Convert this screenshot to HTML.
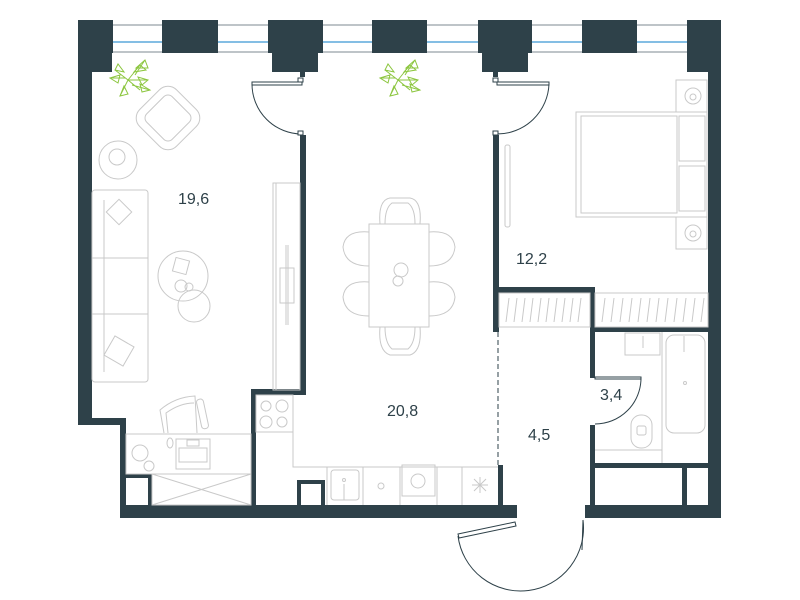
<!DOCTYPE html>
<html><head><meta charset="utf-8"><style>
html,body{margin:0;padding:0;background:#fff;}
svg{display:block}
text{font-family:"Liberation Sans",sans-serif;font-size:16px;fill:#2e4149}
</style></head><body>
<svg width="800" height="600" viewBox="0 0 800 600" xmlns="http://www.w3.org/2000/svg">
<g stroke="#a9b1b5" stroke-width="1.5">
<line x1="112" y1="25" x2="690" y2="25"/>
<line x1="112" y1="52" x2="690" y2="52"/>
</g>
<g stroke="#5ca9dc" stroke-width="1.5">
<line x1="112" y1="42" x2="690" y2="42"/>
</g>
<g fill="#2e4149">
<rect x="78" y="20" width="35" height="33"/>
<rect x="78" y="20" width="34" height="52"/>
<rect x="162" y="20" width="56" height="33"/>
<rect x="268" y="20" width="55" height="33"/>
<rect x="272" y="20" width="46" height="52"/>
<rect x="372" y="20" width="55" height="33"/>
<rect x="478" y="20" width="54" height="33"/>
<rect x="482" y="20" width="46" height="52"/>
<rect x="582" y="20" width="55" height="33"/>
<rect x="687" y="20" width="34" height="52"/>
<rect x="78" y="20" width="14" height="405"/>
<rect x="78" y="418" width="48" height="7"/>
<rect x="120" y="418" width="6" height="100"/>
<rect x="120" y="505" width="397" height="13"/>
<rect x="585" y="505" width="136" height="13"/>
<rect x="708" y="20" width="13" height="498"/>
<rect x="126" y="474" width="26" height="4"/>
<rect x="148" y="474" width="4" height="31"/>
<rect x="297" y="480" width="28" height="4"/>
<rect x="297" y="480" width="4" height="25"/>
<rect x="321" y="480" width="4" height="25"/>
<rect x="300" y="135" width="6" height="260"/>
<rect x="251" y="389" width="55" height="6"/>
<rect x="251" y="389" width="5" height="116"/>
<rect x="300" y="72" width="5" height="5"/>
<rect x="493" y="135" width="6" height="197"/>
<rect x="493" y="72" width="5" height="5"/>
<rect x="493" y="287" width="102" height="6"/>
<rect x="590" y="287" width="5" height="45"/>
<rect x="590" y="327" width="118" height="5"/>
<rect x="590" y="327" width="5" height="51"/>
<rect x="590" y="425" width="5" height="80"/>
<rect x="590" y="463" width="118" height="5"/>
<rect x="682" y="463" width="5" height="42"/>
<rect x="498" y="465" width="5" height="40"/>
</g>
<g fill="none" stroke="#2e4149" stroke-width="1">
<rect x="252" y="82" width="50" height="3" fill="#fff"/>
<path d="M252 84 A50 50 0 0 0 302 134"/>
<rect x="298" y="78" width="5" height="4" fill="#fff"/>
<rect x="298" y="131" width="5" height="4" fill="#fff"/>
<rect x="497" y="82" width="52" height="3" fill="#fff"/>
<path d="M549 84 A52 52 0 0 1 497 134"/>
<rect x="493" y="78" width="5" height="4" fill="#fff"/>
<rect x="493" y="131" width="5" height="4" fill="#fff"/>
<rect x="595" y="377" width="46" height="2" fill="#fff"/>
<path d="M641 378 A46 46 0 0 1 595 424"/>
<path d="M458 534 L515 522 L516 526 L459 538 Z" fill="#fff"/>
<path d="M458 536 A63 63 0 0 0 583 520"/>
<line x1="583" y1="520" x2="582" y2="550"/>
</g>
<line x1="498" y1="332" x2="498" y2="465" stroke="#2e4149" stroke-dasharray="5,3"/>
<g fill="none" stroke="#c9c9c9" stroke-width="1">
<rect x="142" y="92" width="52" height="52" rx="12" transform="rotate(45 168 118)"/>
<rect x="150" y="100" width="36" height="36" rx="6" transform="rotate(45 168 118)"/>
<circle cx="118" cy="160" r="19"/><circle cx="117" cy="157" r="8"/>
<rect x="92" y="190" width="56" height="192" rx="3"/>
<line x1="104" y1="200" x2="104" y2="372"/>
<line x1="92" y1="258" x2="148" y2="258"/><line x1="92" y1="314" x2="148" y2="314"/>
<rect x="110" y="203" width="18" height="18" transform="rotate(45 119 212)"/>
<rect x="108" y="340" width="22" height="22" transform="rotate(30 119 351)"/>
<circle cx="183" cy="276" r="25"/><circle cx="194" cy="306" r="16"/>
<rect x="174" y="259" width="14" height="14" transform="rotate(15 181 266)"/>
<circle cx="181" cy="286" r="6"/><circle cx="189" cy="287" r="4"/>
<rect x="273" y="183" width="27" height="207"/>
<line x1="276" y1="183" x2="276" y2="390"/>
<rect x="280" y="268" width="14" height="35"/>
<line x1="286" y1="245" x2="286" y2="325"/><line x1="288" y1="245" x2="288" y2="325"/>
<rect x="126" y="434" width="125" height="40"/>
<rect x="176" y="439" width="34" height="30"/><rect x="179" y="448" width="28" height="14"/><rect x="187" y="440" width="12" height="6"/>
<ellipse cx="170" cy="443" rx="3" ry="5"/>
<circle cx="140" cy="453" r="8"/><circle cx="149" cy="466" r="5"/>
<path d="M164 433 L160 410 Q175 397 195 396 L197 433"/>
<path d="M168 433 L166 413 Q180 403 194 403"/>
<rect x="199" y="399" width="7" height="30" rx="3" transform="rotate(-12 202 414)"/>
<rect x="152" y="474" width="99" height="31"/>
<line x1="152" y1="474" x2="251" y2="505"/><line x1="152" y1="505" x2="251" y2="474"/>
<rect x="256" y="395" width="37" height="37"/>
<circle cx="266" cy="406" r="5"/><circle cx="282" cy="406" r="6"/><circle cx="266" cy="422" r="6"/><circle cx="282" cy="422" r="5"/>
<polyline points="293,395 293,467 498,467"/>
<line x1="327" y1="467" x2="327" y2="505"/><line x1="363" y1="467" x2="363" y2="505"/><line x1="400" y1="467" x2="400" y2="505"/><line x1="437" y1="467" x2="437" y2="505"/><line x1="462" y1="467" x2="462" y2="505"/>
<rect x="331" y="470" width="28" height="30" rx="3"/><line x1="344" y1="484" x2="344" y2="500"/><circle cx="344" cy="480" r="1.5"/>
<circle cx="381" cy="486" r="3"/>
<rect x="402" y="465" width="33" height="31"/><circle cx="418" cy="481" r="7"/>
<path d="M480 477 L480 493 M472 485 L488 485 M474 479 L486 491 M486 479 L474 491"/>
<rect x="369" y="224" width="60" height="103"/>
<circle cx="401" cy="270" r="7"/><circle cx="398" cy="281" r="5"/>
<path d="M380 224 Q378 200 390 198 L410 198 Q422 200 420 224"/><path d="M385 224 Q385 208 392 203 L408 203 Q415 208 415 224"/>
<path d="M380 327 Q378 351 390 355 L410 355 Q422 351 420 327"/><path d="M385 327 Q385 343 392 349 L408 349 Q415 343 415 327"/>
<path d="M369 232 Q345 230 343 247 Q345 266 369 266"/><path d="M369 282 Q345 280 343 297 Q345 316 369 316"/>
<path d="M429 232 Q453 230 455 247 Q453 266 429 266"/><path d="M429 282 Q453 280 455 297 Q453 316 429 316"/>
<rect x="576" y="112" width="131" height="105"/>
<rect x="581" y="116" width="96" height="97"/>
<rect x="679" y="116" width="26" height="45"/><rect x="679" y="166" width="26" height="45"/>
<rect x="676" y="80" width="31" height="32"/><circle cx="693" cy="96" r="8"/><circle cx="693" cy="97" r="3"/>
<rect x="676" y="217" width="31" height="32"/><circle cx="693" cy="233" r="8"/><circle cx="693" cy="234" r="3"/>
<rect x="505" y="145" width="5" height="82" rx="2"/>
<rect x="499" y="293" width="91" height="34"/><rect x="595" y="293" width="113" height="34"/>
<path d="M506 322 L509 298 M514 322 L517 298 M522 322 L525 298 M530 322 L533 298 M538 322 L541 298 M546 322 L549 298 M554 322 L557 298 M562 322 L565 298 M570 322 L573 298 M578 322 L581 298"/>
<path d="M602 322 L605 298 M611 322 L614 298 M620 322 L623 298 M629 322 L632 298 M638 322 L641 298 M647 322 L650 298 M656 322 L659 298 M665 322 L668 298 M674 322 L677 298 M683 322 L686 298 M692 322 L695 298 M701 322 L704 298"/>
<rect x="625" y="333" width="35" height="22"/><line x1="643" y1="336" x2="643" y2="348"/>
<rect x="666" y="335" width="39" height="98" rx="8"/><line x1="662" y1="332" x2="662" y2="463"/>
<line x1="684" y1="336" x2="684" y2="352"/><circle cx="685" cy="383" r="1.5"/>
<rect x="631" y="415" width="21" height="33" rx="10"/><rect x="637" y="426" width="9" height="9" rx="2"/>
<line x1="595" y1="450" x2="662" y2="450"/>
</g>
<g stroke="#8cc63f" fill="none" stroke-width="1">
<g id="pl">
<path d="M128 80 L140 65 M128 80 L115 70 M128 80 L140 90 M128 80 L120 96 M128 80 L148 80 M135 75 L145 60 M132 85 L150 90 M125 78 L110 78"/>
<path d="M140 65 L134 72 L146 70 Z M115 70 L124 72 L118 64 Z M148 80 L138 77 L142 85 Z M120 96 L124 86 L128 94 Z M145 60 L136 68 L148 68 Z M110 78 L120 75 L118 83 Z M150 90 L140 84 L142 92 Z"/>
</g>
<use href="#pl" transform="translate(270 0)"/>
</g>
<text x="178" y="204">19,6</text>
<text x="387" y="416">20,8</text>
<text x="516" y="264">12,2</text>
<text x="528" y="440">4,5</text>
<text x="600" y="400">3,4</text>
</svg>
</body></html>
